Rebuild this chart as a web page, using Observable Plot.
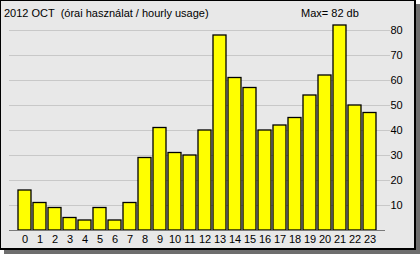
<!DOCTYPE html>
<html>
<head>
<meta charset="utf-8">
<script src="https://cdn.jsdelivr.net/npm/d3@7"></script>
<script src="https://cdn.jsdelivr.net/npm/@observablehq/plot@0.6"></script>
<style>
  html, body { margin: 0; padding: 0; background: #ffffff; }
  #wrap { position: relative; width: 420px; height: 254px; font-family: "Liberation Sans", Arial, sans-serif; }
  #shadow { position: absolute; left: 4px; top: 4px; width: 416px; height: 250px; background: #6e6e6e; }
  #panel { position: absolute; left: 0; top: 0; width: 416px; height: 250px; box-sizing: border-box;
           background: #e8e8e8; border-left: 1px solid #000; border-top: 1px solid #000;
           border-right: 2px solid #000; border-bottom: 2px solid #000; }
  #chart { position: absolute; left: 0; top: 0; }
  .lbl { position: absolute; font-size: 11px; color: #000; white-space: pre; line-height: 1; }
</style>
</head>
<body>
<div id="wrap">
  <div id="shadow"></div>
  <div id="panel"></div>
  <div id="chart"></div>
  <div class="lbl" id="title" style="left:4px; top:8px;"></div>
  <div class="lbl" id="maxlbl" style="left:301px; top:8px;"></div>
</div>
<script>
const titleText = "2012 OCT  (órai használat / hourly usage)";
const hours = [0,1,2,3,4,5,6,7,8,9,10,11,12,13,14,15,16,17,18,19,20,21,22,23];
const usage = [16,11,9,5,4,9,4,11,29,41,31,30,40,78,61,57,40,42,45,54,62,82,50,47];
const yTicks = [10,20,30,40,50,60,70,80];

const data = hours.map((h, i) => ({hour: h, value: usage[i]}));
const maxVal = d3.max(usage);

document.getElementById("title").textContent = titleText;
document.getElementById("maxlbl").textContent = `Max= ${maxVal} db`;

const chart = Plot.plot({
  width: 420,
  height: 254,
  marginLeft: 17,
  marginRight: 43,
  marginTop: 30,
  marginBottom: 24,
  style: {background: "transparent", fontFamily: "Liberation Sans, Arial, sans-serif", fontSize: "11px", color: "#000"},
  x: {type: "band", domain: hours, paddingInner: 0.13, paddingOuter: 0.065, label: null},
  y: {domain: [0, 80], label: null},
  marks: [
    Plot.ruleY(yTicks, {stroke: "#c8c8c8", strokeWidth: 1, insetLeft: -8, insetRight: -13}),
    Plot.barY(data, {x: "hour", y: "value", fill: "#ffff00", stroke: "#000", strokeWidth: 1.3}),
    Plot.ruleY([0], {stroke: "#7a7a7a", strokeWidth: 1, insetLeft: -8, insetRight: -8}),
    Plot.axisY({ticks: yTicks, anchor: "right", tickSize: 0, tickPadding: 13, textAnchor: "start", label: null, fill: "#000"}),
    Plot.axisX({tickSize: 0, tickPadding: 5, label: null, fill: "#000"})
  ]
});
document.getElementById("chart").appendChild(chart);
</script>
</body>
</html>
